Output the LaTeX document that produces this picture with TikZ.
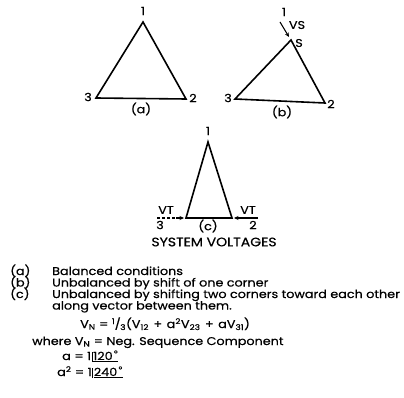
\documentclass[tikz,border=0pt]{standalone}
\usepackage{fontspec}
\setmainfont{Poppins}[FakeBold=0.6, FakeStretch=1.14]
\usetikzlibrary{arrows.meta}
\newcommand{\angbox}[1]{\kern0.5pt\vrule width 0.8pt height 8pt depth 2pt\kern0.8pt\underline{#1}}
\newcommand{\eqs}{\kern3.5pt=\kern3.5pt}
\newcommand{\pls}{\kern4.5pt+\kern4.5pt}
\begin{document}
\begin{tikzpicture}[x=1pt,y=-1pt,
  tri/.style={line width=1.6pt, line join=miter},
  lab/.style={inner sep=0pt, font=\fontsize{11.2}{14}\selectfont},
  txt/.style={inner sep=0pt, anchor=base west, font=\fontsize{11.2}{13}\selectfont},
  vec/.style={line width=1.1pt, -{Stealth[length=4.5pt,width=4pt]}}]
\useasboundingbox (0,0) rectangle (404,398);
% ---- (a)
\coordinate (a1) at (143,22);
\coordinate (a2) at (186,99);
\coordinate (a3) at (96,98);
\draw[tri] (a1) -- (a2) -- (a3) -- cycle;
\node[lab] (la1) at (143,11) {1};
\node[lab] (la2) at (193,98) {2};
\node[lab] (la3) at (88,97) {3};
\node[lab] (lac) at (141,109) {(a)};
% ---- (b)
\coordinate (b1) at (291,40);
\coordinate (b2) at (325,103);
\coordinate (b3) at (235,99);
\draw[tri] (b1) -- (b2) -- (b3) -- cycle;
\node[lab] (lb1) at (284,12) {1};
\coordinate (bs) at (280,22);
\coordinate (be) at (289,37);
\draw[vec] (bs) -- (be);
\node[lab] (lbvs) at (297,25) {VS};
\node[lab] (lbs) at (299,43) {S};
\node[lab] (lb2) at (331,104) {2};
\node[lab] (lb3) at (228,98) {3};
\node[lab] (lbc) at (282,112) {(b)};
% ---- (c)
\coordinate (c1) at (208,142);
\coordinate (c2) at (232,218);
\coordinate (c3) at (186,218);
\draw[tri] (c1) -- (c2) -- (c3) -- cycle;
\node[lab] (lc1) at (208,131) {1};
\coordinate (cl) at (157,218);
\coordinate (clh) at (184,218);
\draw[line width=1.1pt, dash pattern=on 3pt off 2pt] (cl) -- (178,218);
\draw[vec] (176,218) -- (clh);
\coordinate (cr) at (258,218);
\coordinate (crh) at (234,218);
\draw[vec] (cr) -- (crh);
\node[lab] (lcvt1) at (166,210) {VT};
\node[lab] (lc3) at (160,225) {3};
\node[lab] (lcvt2) at (248,210) {VT};
\node[lab] (lc2) at (253,225) {2};
\node[lab] (lcc) at (208,226) {(c)};
\node[lab, font=\fontsize{12.3}{15}\selectfont] (title) at (214,242) {SYSTEM VOLTAGES};
% ---- legend
\node[txt] (ta) at (10,275) {(a)};
\node[txt] (tb) at (10,286.5) {(b)};
\node[txt] (tc) at (10,298) {(c)};
\node[txt] (ta2) at (52,275) {Balanced conditions};
\node[txt] (tb2) at (52,286.5) {Unbalanced by shift of one corner};
\node[txt] (tc2) at (52,298) {Unbalanced by shifting two corners toward each other};
\node[txt] (td2) at (52,309.5) {along vector between them.};
\node[txt] (eq) at (80,328) {V\textsubscript{N}\eqs\textsuperscript{1}\kern-0.5pt/\kern-0.5pt\textsubscript{3}(V\textsubscript{12}\pls a\textsuperscript{2}V\textsubscript{23}\pls aV\textsubscript{31})};
\node[txt] (wh) at (32,345) {where V\textsubscript{N}\eqs Neg. Sequence Component};
\node[txt] (ea) at (62,360) {a\eqs 1\angbox{120\textsuperscript{\,°}}};
\node[txt] (ea2) at (57,376) {a\textsuperscript{2}\eqs 1\angbox{240\textsuperscript{\,°}}};
\end{tikzpicture}
\end{document}
